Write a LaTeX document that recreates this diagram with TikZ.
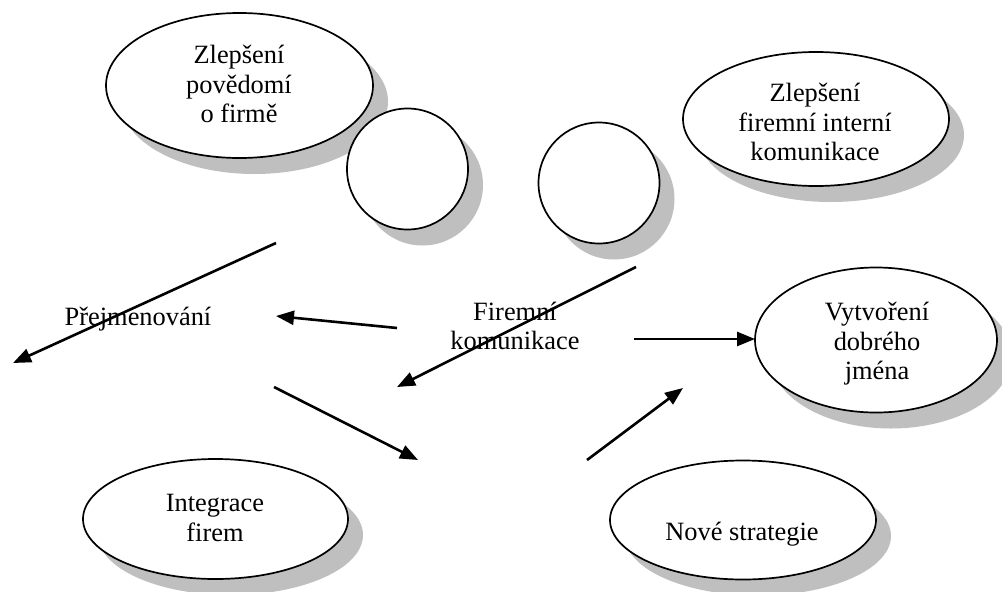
\documentclass[tikz,border=0pt]{standalone}
\usepackage{fontspec}
\setmainfont{Liberation Serif}
\usetikzlibrary{shapes.geometric,shadows,arrows.meta}

\tikzset{
  bubble/.style={ellipse, draw=black, line width=1.7pt, fill=white, inner sep=0pt,
    drop shadow={shadow xshift=15pt, shadow yshift=-16pt, fill=black!25, opacity=1}},
  dot/.style={circle, draw=black, line width=1.7pt, fill=white, inner sep=0pt,
    minimum size=121pt,
    drop shadow={shadow xshift=15pt, shadow yshift=-16pt, fill=black!25, opacity=1}},
  caption/.style={align=center, inner sep=0pt, font=\fontsize{26.4}{29.5}\selectfont},
  arr/.style={line width=2.6pt, -{Triangle[length=18pt,width=14pt]}}
}

\begin{document}
\begin{tikzpicture}[x=1pt, y=-1pt]
  \useasboundingbox (0,0) rectangle (1002,592);

  % ellipses and circles
  \node[bubble, minimum width=267pt, minimum height=145pt] (povedomi) at (239.5,85.5) {};
  \node[dot] (kruh1) at (407.5,169) {};
  \node[dot] (kruh2) at (599,183) {};
  \node[bubble, minimum width=266pt, minimum height=134pt] (interni) at (816,119) {};
  \node[bubble, minimum width=242pt, minimum height=145pt] (jmeno) at (876,340) {};
  \node[bubble, minimum width=265pt, minimum height=120pt] (integrace) at (215.5,519) {};
  \node[bubble, minimum width=266pt, minimum height=119pt] (strategie) at (743,520) {};

  % texts inside the shapes
  \node[caption] (t-povedomi) at (239,84) {Zlepšení\\povědomí\\o firmě};
  \node[caption] (t-interni) at (815,122) {Zlepšení\\firemní interní\\komunikace};
  \node[caption] (t-jmeno) at (877,344) {Vytvoření\\dobrého\\jména};
  \node[caption] (t-integrace) at (215,518) {Integrace\\firem};
  \node[caption, anchor=base] (t-strategie) at (742,540) {Nové strategie};

  % free texts
  \node[caption, anchor=base] (prejmenovani) at (138,325) {Přejmenování};
  \node[caption] (komunikace) at (515,326) {Firemní\\komunikace};

  % arrow end points
  \coordinate (a1s) at (276,243);  \coordinate (a1e) at (13,363);
  \coordinate (a2s) at (397,328);  \coordinate (a2e) at (276,316);
  \coordinate (a3s) at (636,267);  \coordinate (a3e) at (397,387);
  \coordinate (a4s) at (634,339);  \coordinate (a4e) at (755,339);
  \coordinate (a5s) at (274,387);  \coordinate (a5e) at (418,460);
  \coordinate (a6s) at (587,460);  \coordinate (a6e) at (683,388);

  \draw[arr] (a1s) -- (a1e);
  \draw[arr] (a2s) -- (a2e);
  \draw[arr] (a3s) -- (a3e);
  \draw[arr] (a4s) -- (a4e);
  \draw[arr] (a5s) -- (a5e);
  \draw[arr] (a6s) -- (a6e);
\end{tikzpicture}
\end{document}
